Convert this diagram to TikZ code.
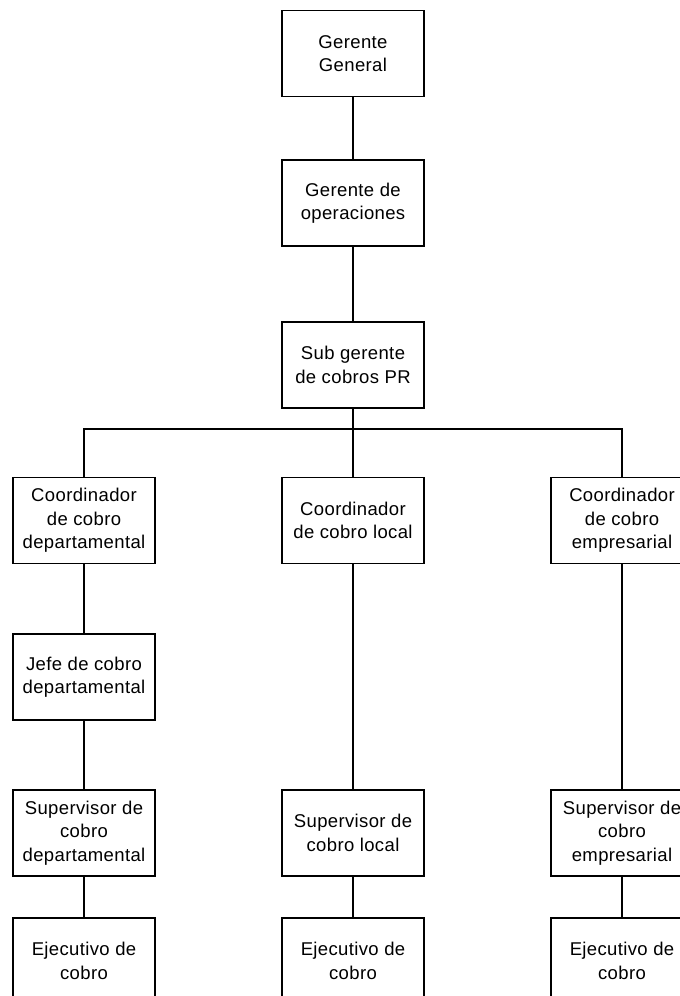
\documentclass[tikz,border=0pt]{standalone}
\usepackage{fontspec}
\setmainfont{Liberation Sans}[LetterSpace=2]
\begin{document}
\begin{tikzpicture}[x=1pt,y=1pt,
  box/.style={draw, line width=1.2pt, minimum width=142pt, minimum height=86pt, align=center, inner sep=0pt, font=\fontsize{18.5}{23.5}\selectfont},
  link/.style={line width=1.2pt}]
\useasboundingbox (0,0) rectangle (680,-996);
\clip (0,0) rectangle (680,-996);
\node[box] (gg) at (353,-53.5) {Gerente\\General};
\node[box] (go) at (353,-203) {Gerente de\\operaciones};
\node[box] (sg) at (353,-365) {Sub gerente\\de cobros PR};
\node[box] (c1) at (84,-520.5) {Coordinador\\de cobro\\departamental};
\node[box] (c2) at (353,-520.5) {Coordinador\\de cobro local};
\node[box] (c3) at (622,-520.5) {Coordinador\\de cobro\\empresarial};
\node[box] (j1) at (84,-677) {Jefe de cobro\\departamental};
\node[box] (s1) at (84,-833) {Supervisor de\\cobro\\departamental};
\node[box] (s2) at (353,-833) {Supervisor de\\cobro local};
\node[box] (s3) at (622,-833) {Supervisor de\\cobro\\empresarial};
\node[box] (e1) at (84,-961) {Ejecutivo de\\cobro};
\node[box] (e2) at (353,-961) {Ejecutivo de\\cobro};
\node[box] (e3) at (622,-961) {Ejecutivo de\\cobro};
\coordinate (bus) at (0,-429);
\draw[link] (gg) -- (go);
\draw[link] (go) -- (sg);
\draw[link] (sg) -- (c2);
\draw[link] (sg.south) -- (sg.south |- bus) -| (c1.north);
\draw[link] (sg.south |- bus) -| (c3.north);
\draw[link] (c1) -- (j1);
\draw[link] (j1) -- (s1);
\draw[link] (s1) -- (e1);
\draw[link] (c2) -- (s2);
\draw[link] (s2) -- (e2);
\draw[link] (c3) -- (s3);
\draw[link] (s3) -- (e3);
\end{tikzpicture}
\end{document}
